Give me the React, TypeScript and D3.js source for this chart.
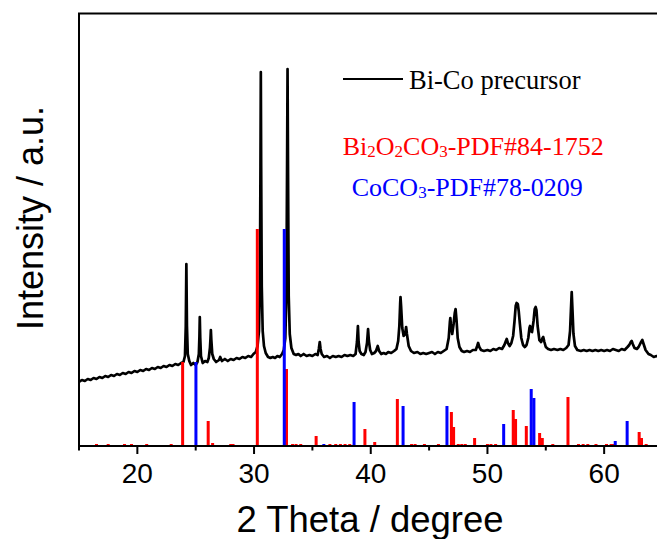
import React from "react";
import * as d3 from "d3";

// XRD pattern of the Bi-Co precursor: [2θ, intensity (a.u.)]
const precursorPattern: [number, number][] = [
  [15, 64], [15.25, 66], [15.5, 65], [15.75, 67], [16, 66], [16.25, 68], [16.5, 67], [16.75, 69],
  [17, 68], [17.25, 70], [17.5, 69], [17.75, 71], [18, 70], [18.25, 72], [18.5, 71], [18.75, 73],
  [19, 72], [19.25, 74], [19.5, 73], [19.75, 75], [20, 74], [20.25, 76], [20.5, 75], [20.75, 77],
  [21, 76], [21.25, 78], [21.5, 77], [21.75, 79], [22, 78], [22.25, 80], [22.5, 79], [22.75, 81],
  [23, 80], [23.25, 82], [23.5, 81], [23.75, 83],
  [23.95, 84], [24.08, 90], [24.15, 120], [24.2, 182], [24.25, 120], [24.32, 92], [24.45, 85], [24.6, 81],
  [24.8, 83], [25.0, 81],
  [25.15, 84], [25.27, 92], [25.32, 110], [25.35, 129], [25.39, 108], [25.45, 90], [25.6, 83], [25.8, 85], [26.0, 84],
  [26.12, 88], [26.22, 98], [26.27, 108], [26.3, 116], [26.34, 106], [26.42, 92], [26.55, 87], [26.75, 84],
  [27.0, 86], [27.1, 89], [27.25, 85], [27.5, 87], [27.75, 85], [28, 87], [28.25, 86], [28.5, 88],
  [28.75, 87], [29, 89], [29.25, 88], [29.5, 90], [29.75, 89], [29.95, 92],
  [30.15, 94], [30.3, 100], [30.42, 115], [30.5, 160], [30.55, 280], [30.58, 374], [30.61, 280], [30.66, 160],
  [30.74, 115], [30.85, 100], [31.0, 93], [31.2, 89], [31.4, 88], [31.6, 89], [31.8, 88], [32.0, 90],
  [32.2, 89], [32.4, 92],
  [32.55, 96], [32.68, 108], [32.77, 150], [32.83, 280], [32.87, 377], [32.91, 280], [32.97, 150], [33.06, 112],
  [33.2, 98], [33.4, 92], [33.6, 91], [33.8, 92], [34.0, 90], [34.25, 92], [34.5, 90], [34.75, 91],
  [35.0, 90], [35.25, 92], [35.45, 91],
  [35.55, 97], [35.63, 104], [35.7, 97], [35.8, 92], [36.0, 89], [36.25, 90], [36.5, 88], [36.75, 90],
  [37.0, 89], [37.25, 90], [37.5, 89], [37.75, 91], [38.0, 90], [38.25, 91], [38.5, 90], [38.7, 92],
  [38.82, 104], [38.9, 120], [38.96, 104], [39.05, 95], [39.2, 92], [39.4, 91], [39.55, 94],
  [39.68, 103], [39.77, 117], [39.84, 105], [39.95, 96], [40.1, 92], [40.3, 93], [40.45, 95], [40.6, 100],
  [40.72, 95], [40.9, 92], [41.1, 93], [41.3, 92], [41.5, 94], [41.75, 93], [42.0, 95], [42.2, 97],
  [42.35, 105], [42.45, 120], [42.52, 142], [42.55, 149], [42.6, 140], [42.7, 118], [42.82, 110], [42.95, 112],
  [43.03, 119], [43.1, 112], [43.25, 100], [43.45, 95], [43.7, 93], [44.0, 94], [44.25, 92], [44.5, 93],
  [44.75, 92], [45.0, 93], [45.25, 94], [45.5, 92], [45.75, 94], [46.0, 93], [46.25, 95], [46.5, 97],
  [46.68, 108], [46.78, 124], [46.82, 128], [46.88, 120], [46.98, 112], [47.1, 122], [47.2, 133], [47.27, 137],
  [47.35, 126], [47.45, 108], [47.6, 99], [47.8, 95], [48.0, 94], [48.25, 95], [48.5, 94], [48.75, 96],
  [49.0, 96], [49.12, 100], [49.2, 103], [49.3, 99], [49.45, 96], [49.7, 95], [50.0, 96], [50.25, 95],
  [50.5, 97], [50.75, 96], [51.0, 98], [51.25, 97], [51.45, 101],
  [51.58, 105], [51.65, 107], [51.75, 103], [51.9, 100], [52.05, 103],
  [52.2, 110], [52.32, 125], [52.42, 140], [52.5, 143], [52.6, 142], [52.68, 135], [52.78, 122], [52.9, 108],
  [53.05, 101], [53.2, 99], [53.35, 101],
  [53.5, 108], [53.6, 118], [53.65, 120], [53.72, 115], [53.82, 114], [53.95, 125], [54.05, 137], [54.13, 139],
  [54.2, 136], [54.3, 120], [54.45, 106], [54.6, 104], [54.72, 108], [54.78, 109], [54.88, 104], [55.0, 99],
  [55.2, 97], [55.45, 96], [55.7, 97], [56.0, 96], [56.25, 97], [56.5, 96], [56.75, 98], [56.95, 101],
  [57.08, 115], [57.15, 135], [57.22, 154], [57.29, 135], [57.37, 112], [57.5, 100], [57.7, 96], [58.0, 95],
  [58.25, 96], [58.5, 95], [58.75, 96], [59.0, 95], [59.25, 96], [59.5, 95], [59.75, 96], [60.0, 95],
  [60.25, 96], [60.5, 95], [60.75, 97], [61.0, 96], [61.25, 95], [61.5, 97], [61.75, 96], [62.0, 99],
  [62.15, 101], [62.28, 104], [62.36, 105], [62.45, 102], [62.6, 98], [62.8, 97], [62.95, 99],
  [63.12, 103], [63.27, 106], [63.38, 102], [63.55, 96], [63.8, 92], [64.0, 91], [64.25, 89], [64.5, 90],
  [64.75, 88], [65, 88],
];

// Reference stick pattern Bi2O2CO3 PDF#84-1752: [2θ, relative intensity]
const bi2o2co3Sticks: [number, number][] = [
  [16.5, 2], [17.5, 2], [18.9, 2], [19.5, 2], [20.8, 2], [22.9, 2], [23.88, 84], [26.07, 25],
  [26.45, 3], [28.0, 2], [28.2, 2], [30.28, 217], [32.78, 77], [33.3, 2], [33.6, 2], [34.0, 2],
  [35.32, 10], [36.5, 2], [37.0, 2], [37.4, 2], [37.8, 2], [38.2, 2], [39.5, 17], [40.34, 4],
  [42.28, 47], [43.5, 2], [43.8, 2], [44.6, 2], [45.8, 2], [46.91, 34], [47.1, 19], [47.5, 2],
  [47.8, 2], [48.1, 2], [48.9, 8], [50.0, 2], [50.3, 2], [50.7, 2], [52.21, 36], [52.41, 27],
  [53.33, 20], [54.47, 13], [54.7, 8], [55.6, 2], [56.9, 49], [57.8, 2], [58.2, 2], [58.6, 2],
  [59.3, 2], [60.2, 2], [60.6, 2], [60.8, 2], [63.0, 14], [63.2, 8], [63.6, 2],
];

// Reference stick pattern CoCO3 PDF#78-0209: [2θ, relative intensity]
const coco3Sticks: [number, number][] = [
  [25.02, 84], [32.59, 217], [35.98, 2], [38.57, 44], [42.77, 40], [46.53, 40], [51.39, 22],
  [53.75, 57], [53.98, 48], [60.95, 5], [61.97, 25],
];

const majorTicks = [20, 30, 40, 50, 60];
const minorTicks = [15, 25, 35, 45, 55, 65];

const xTitle = "2 Theta / degree";
const yTitle = "Intensity / a.u.";
const legendLine = "Bi-Co precursor";

const W = 657;
const H = 539;
const left = 79;
const right = 662.5;
const top = 13.5;
const bottom = 446;

export default function App() {
  const x = d3.scaleLinear().domain([15, 65]).range([left, right]);
  const y = d3.scaleLinear().domain([0, 432.5]).range([bottom, top]);

  const line = d3
    .line<[number, number]>()
    .x((d) => x(d[0]))
    .y((d) => y(d[1]));

  const sans = "'Liberation Sans', Arial, sans-serif";
  const serif = "'Liberation Serif', 'Times New Roman', serif";
  const barW = 3;

  return (
    <svg
      width={W}
      height={H}
      style={{ position: "absolute", left: 0, top: 0, background: "#fff" }}
    >
      <defs>
        <clipPath id="plot">
          <rect x={left} y={top} width={right - left} height={bottom - top} />
        </clipPath>
      </defs>
      <rect x={0} y={0} width={W} height={H} fill="#fff" />

      <g clipPath="url(#plot)">
        <path
          d={line(precursorPattern) || ""}
          fill="none"
          stroke="#000"
          strokeWidth={2.7}
          strokeLinejoin="round"
        />
        {bi2o2co3Sticks.map((d, i) => (
          <rect
            key={"r" + i}
            x={x(d[0]) - barW / 2}
            y={y(d[1])}
            width={barW}
            height={y(0) - y(d[1])}
            fill="#ff0000"
          />
        ))}
        {coco3Sticks.map((d, i) => (
          <rect
            key={"b" + i}
            x={x(d[0]) - barW / 2}
            y={y(d[1])}
            width={barW}
            height={y(0) - y(d[1])}
            fill="#0000ff"
          />
        ))}
      </g>

      {/* frame */}
      <rect
        x={left}
        y={top}
        width={right - left}
        height={bottom - top}
        fill="none"
        stroke="#000"
        strokeWidth={2}
      />

      {/* ticks */}
      {majorTicks.map((t) => (
        <g key={"M" + t}>
          <line x1={x(t)} x2={x(t)} y1={bottom} y2={bottom + 8} stroke="#000" strokeWidth={2} />
          <text
            x={x(t)}
            y={483}
            textAnchor="middle"
            fontFamily={sans}
            fontSize={28}
            fill="#000"
          >
            {t}
          </text>
        </g>
      ))}
      {minorTicks.map((t) => (
        <line key={"m" + t} x1={x(t)} x2={x(t)} y1={bottom} y2={bottom + 4.5} stroke="#000" strokeWidth={2} />
      ))}

      {/* axis titles */}
      <text x={370} y={532} textAnchor="middle" fontFamily={sans} fontSize={36.5} fill="#000">
        {xTitle}
      </text>
      <text
        transform="translate(43,218) rotate(-90)"
        textAnchor="middle"
        fontFamily={sans}
        fontSize={36}
        fill="#000"
      >
        {yTitle}
      </text>

      {/* legend */}
      <line x1={343} x2={403} y1={79} y2={79} stroke="#000" strokeWidth={2} />
      <text x={409} y={89} fontFamily={serif} fontSize={26.5} fill="#000">
        {legendLine}
      </text>
      <text x={342.7} y={155} fontFamily={serif} fontSize={26} fill="#ff0000">
        Bi
        <tspan fontSize={17} dy={2}>2</tspan>
        <tspan dy={-2}>O</tspan>
        <tspan fontSize={17} dy={2}>2</tspan>
        <tspan dy={-2}>CO</tspan>
        <tspan fontSize={17} dy={2}>3</tspan>
        <tspan dy={-2}>-PDF#84-1752</tspan>
      </text>
      <text x={351.7} y={195.7} fontFamily={serif} fontSize={26} fill="#0000ff">
        CoCO
        <tspan fontSize={17} dy={2}>3</tspan>
        <tspan dy={-2}>-PDF#78-0209</tspan>
      </text>
    </svg>
  );
}
